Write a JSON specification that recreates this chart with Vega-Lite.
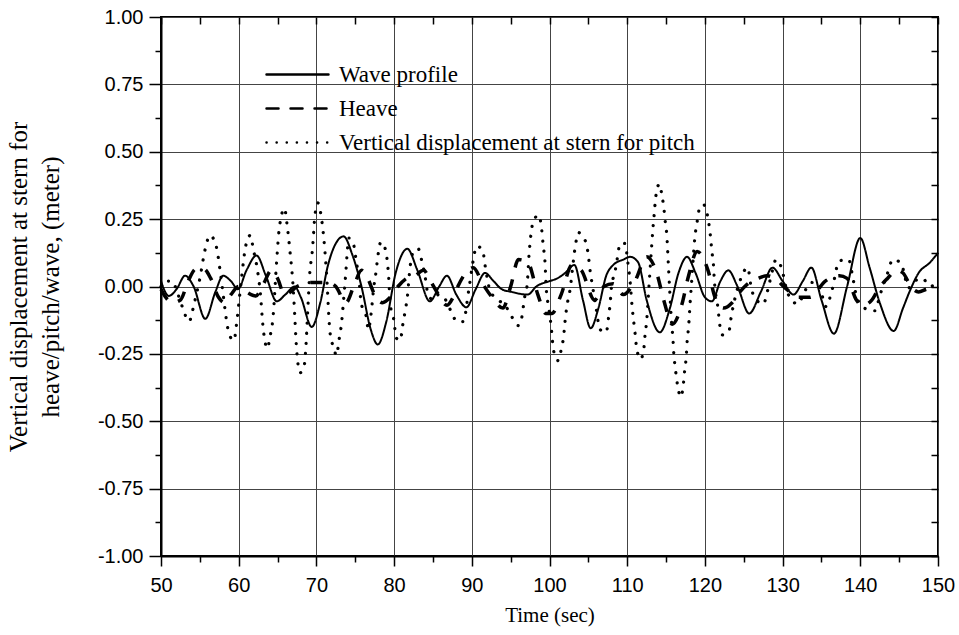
{
  "$schema": "https://vega.github.io/schema/vega-lite/v6.json",
  "width": 777,
  "height": 539,
  "autosize": "none",
  "padding": {"left": 161, "top": 17, "right": 21, "bottom": 79},
  "background": "white",
  "config": {
    "view": {"stroke": "black", "strokeWidth": 2},
    "axis": {
      "labelFont": "Liberation Sans", "labelFontSize": 20, "labelColor": "black", "labelFlush": false, "labelOverlap": false,
      "titleFont": "Liberation Serif", "titleFontSize": 22, "titleFontWeight": "normal", "titleColor": "black",
      "domainColor": "black", "domainWidth": 2, "tickColor": "black", "tickWidth": 1.5,
      "gridColor": "#444", "gridWidth": 1
    }
  },
  "datasets": {
    "wave": [
      {"t":50,"v":0.02},{"t":51,"v":-0.035},{"t":52,"v":-0.01},{"t":53.1,"v":0.04},{"t":54.2,"v":0.0},{"t":55.7,"v":-0.12},{"t":57,"v":-0.02},{"t":58,"v":0.04},{"t":59,"v":0.02},{"t":59.9,"v":-0.01},{"t":61,"v":0.06},{"t":62.3,"v":0.115},{"t":63.5,"v":0.04},{"t":64.9,"v":-0.055},{"t":66,"v":-0.03},{"t":67.2,"v":0.0},{"t":68,"v":-0.04},{"t":69.4,"v":-0.15},{"t":70.5,"v":-0.06},{"t":71.5,"v":0.08},{"t":72.5,"v":0.16},{"t":73.5,"v":0.186},{"t":74.6,"v":0.12},{"t":75.8,"v":0.0},{"t":77,"v":-0.16},{"t":77.9,"v":-0.215},{"t":79,"v":-0.13},{"t":80.2,"v":0.05},{"t":81.7,"v":0.14},{"t":83,"v":0.06},{"t":84.6,"v":-0.055},{"t":85.8,"v":0.0},{"t":86.8,"v":0.04},{"t":88,"v":-0.03},{"t":89.3,"v":-0.077},{"t":90.5,"v":-0.01},{"t":91.7,"v":0.05},{"t":92.8,"v":0.02},{"t":93.85,"v":-0.01},{"t":95.1,"v":-0.02},{"t":97.2,"v":-0.03},{"t":98.3,"v":0.0},{"t":100,"v":0.02},{"t":101,"v":0.03},{"t":102,"v":0.05},{"t":103.2,"v":0.08},{"t":104.3,"v":-0.05},{"t":105.3,"v":-0.155},{"t":106.3,"v":-0.08},{"t":107.3,"v":0.04},{"t":108.2,"v":0.08},{"t":109.5,"v":0.1},{"t":110.4,"v":0.11},{"t":111.4,"v":0.09},{"t":112.5,"v":-0.05},{"t":114.2,"v":-0.17},{"t":115.5,"v":-0.08},{"t":116.6,"v":0.05},{"t":117.7,"v":0.11},{"t":118.8,"v":0.05},{"t":120,"v":-0.04},{"t":120.9,"v":-0.055},{"t":122,"v":0.02},{"t":123,"v":0.06},{"t":124.2,"v":0.0},{"t":125.7,"v":-0.10},{"t":127.2,"v":-0.02},{"t":128.7,"v":0.07},{"t":130,"v":0.02},{"t":131.4,"v":-0.03},{"t":132.6,"v":0.02},{"t":133.7,"v":0.07},{"t":135,"v":-0.05},{"t":136.6,"v":-0.175},{"t":138.3,"v":0.0},{"t":140,"v":0.18},{"t":141.2,"v":0.07},{"t":142.5,"v":-0.06},{"t":144.3,"v":-0.165},{"t":145.5,"v":-0.08},{"t":146.4,"v":-0.015},{"t":147.5,"v":0.05},{"t":149,"v":0.09},{"t":150,"v":0.125}
    ],
    "heave": [
      {"t":50,"v":-0.01},{"t":50.6,"v":-0.04},{"t":51.5,"v":-0.06},{"t":52.5,"v":-0.05},{"t":53.5,"v":0.02},{"t":54.5,"v":0.065},{"t":55.5,"v":0.065},{"t":56.4,"v":0.03},{"t":57.4,"v":-0.04},{"t":58.2,"v":-0.06},{"t":59,"v":-0.03},{"t":60,"v":0.0},{"t":61,"v":-0.02},{"t":62.2,"v":-0.035},{"t":63.2,"v":0.01},{"t":64.2,"v":0.06},{"t":65,"v":0.03},{"t":65.9,"v":-0.03},{"t":66.7,"v":-0.02},{"t":67.5,"v":0.0},{"t":69.5,"v":0.015},{"t":71.5,"v":0.015},{"t":72.5,"v":0.0},{"t":73.8,"v":-0.06},{"t":74.8,"v":0.0},{"t":75.8,"v":0.06},{"t":76.6,"v":0.03},{"t":77.5,"v":-0.03},{"t":78.5,"v":-0.06},{"t":79.5,"v":-0.04},{"t":80.5,"v":0.0},{"t":81.6,"v":0.03},{"t":82.7,"v":0.04},{"t":83.8,"v":0.06},{"t":84.7,"v":0.02},{"t":85.5,"v":-0.02},{"t":86.8,"v":-0.07},{"t":87.6,"v":-0.04},{"t":88.2,"v":0.0},{"t":89.2,"v":0.05},{"t":90.2,"v":0.07},{"t":91.4,"v":0.01},{"t":92.6,"v":-0.04},{"t":94,"v":-0.08},{"t":95,"v":0.0},{"t":96,"v":0.1},{"t":97.2,"v":0.09},{"t":98.5,"v":-0.03},{"t":99.5,"v":-0.1},{"t":100.3,"v":-0.1},{"t":101.5,"v":-0.03},{"t":102.9,"v":0.08},{"t":104.1,"v":0.06},{"t":105.8,"v":-0.05},{"t":107,"v":0.0},{"t":108.2,"v":0.01},{"t":109.5,"v":-0.03},{"t":111,"v":0.02},{"t":112.5,"v":0.11},{"t":113.8,"v":0.05},{"t":114.7,"v":-0.05},{"t":115.8,"v":-0.14},{"t":117,"v":-0.07},{"t":117.9,"v":0.04},{"t":119,"v":0.13},{"t":120.4,"v":0.06},{"t":121.3,"v":-0.04},{"t":122.4,"v":-0.08},{"t":123.5,"v":-0.06},{"t":124.5,"v":-0.02},{"t":125.5,"v":0.01},{"t":126.8,"v":0.03},{"t":128,"v":0.04},{"t":129,"v":0.03},{"t":130.5,"v":-0.01},{"t":132,"v":-0.04},{"t":133.5,"v":-0.04},{"t":135.5,"v":0.02},{"t":137.3,"v":0.04},{"t":138.3,"v":0.03},{"t":139.5,"v":-0.05},{"t":140.3,"v":-0.07},{"t":141.5,"v":-0.05},{"t":142.3,"v":-0.01},{"t":143.5,"v":0.03},{"t":144.7,"v":0.06},{"t":145.5,"v":0.05},{"t":146.5,"v":0.0},{"t":147.5,"v":-0.02},{"t":148.5,"v":-0.01},{"t":150,"v":0.0}
    ],
    "pitch": [
      {"t":50,"v":0.0},{"t":50.6,"v":0.02},{"t":51.4,"v":0.02},{"t":52.2,"v":-0.03},{"t":52.8,"v":-0.08},{"t":53.6,"v":-0.13},{"t":54.3,"v":-0.06},{"t":55,"v":0.03},{"t":55.7,"v":0.14},{"t":56.3,"v":0.19},{"t":57.1,"v":0.15},{"t":57.6,"v":0.06},{"t":58,"v":-0.03},{"t":58.4,"v":-0.12},{"t":58.8,"v":-0.18},{"t":59.4,"v":-0.2},{"t":59.7,"v":-0.145},{"t":60.1,"v":-0.04},{"t":60.4,"v":0.04},{"t":60.9,"v":0.15},{"t":61.5,"v":0.19},{"t":61.9,"v":0.135},{"t":62.3,"v":0.08},{"t":62.8,"v":-0.03},{"t":63.1,"v":-0.14},{"t":63.7,"v":-0.23},{"t":64,"v":-0.19},{"t":64.4,"v":-0.12},{"t":64.9,"v":0.1},{"t":65.2,"v":0.21},{"t":65.9,"v":0.29},{"t":66.2,"v":0.235},{"t":66.6,"v":0.13},{"t":67,"v":0.0},{"t":67.2,"v":-0.1},{"t":67.4,"v":-0.21},{"t":67.9,"v":-0.32},{"t":68.4,"v":-0.3},{"t":68.6,"v":-0.245},{"t":68.9,"v":-0.08},{"t":69.1,"v":0.03},{"t":69.5,"v":0.14},{"t":69.8,"v":0.26},{"t":70.2,"v":0.31},{"t":70.5,"v":0.28},{"t":70.8,"v":0.22},{"t":71.1,"v":0.13},{"t":71.3,"v":0.05},{"t":71.75,"v":-0.17},{"t":72.2,"v":-0.225},{"t":72.6,"v":-0.256},{"t":72.9,"v":-0.2},{"t":73.2,"v":-0.145},{"t":73.7,"v":0.02},{"t":74.2,"v":0.18},{"t":74.75,"v":0.16},{"t":75.1,"v":0.1},{"t":75.5,"v":0.02},{"t":75.75,"v":-0.06},{"t":76.4,"v":-0.11},{"t":76.7,"v":-0.16},{"t":77,"v":-0.11},{"t":77.4,"v":0.0},{"t":77.7,"v":0.06},{"t":77.9,"v":0.11},{"t":78.3,"v":0.165},{"t":78.8,"v":0.145},{"t":79.3,"v":0.035},{"t":79.5,"v":-0.065},{"t":80,"v":-0.13},{"t":80.25,"v":-0.19},{"t":80.8,"v":-0.2},{"t":81.1,"v":-0.145},{"t":81.4,"v":-0.095},{"t":81.7,"v":-0.04},{"t":82.05,"v":0.07},{"t":82.5,"v":0.13},{"t":83.1,"v":0.14},{"t":83.6,"v":0.09},{"t":84,"v":0.035},{"t":84.3,"v":-0.02},{"t":85,"v":-0.05},{"t":85.7,"v":-0.03},{"t":86.4,"v":-0.04},{"t":87.3,"v":-0.09},{"t":88.1,"v":-0.13},{"t":88.9,"v":-0.13},{"t":89.6,"v":-0.015},{"t":90.2,"v":0.1},{"t":90.6,"v":0.15},{"t":91.4,"v":0.135},{"t":91.7,"v":0.08},{"t":92.35,"v":-0.015},{"t":93.4,"v":-0.05},{"t":94.3,"v":-0.07},{"t":95.1,"v":-0.11},{"t":96,"v":-0.145},{"t":96.4,"v":-0.12},{"t":96.8,"v":-0.04},{"t":97.1,"v":0.0},{"t":97.4,"v":0.13},{"t":97.9,"v":0.24},{"t":98.6,"v":0.265},{"t":99,"v":0.21},{"t":99.2,"v":0.15},{"t":99.4,"v":0.1},{"t":99.6,"v":-0.015},{"t":99.85,"v":-0.07},{"t":100.1,"v":-0.12},{"t":100.3,"v":-0.175},{"t":100.5,"v":-0.235},{"t":101.1,"v":-0.275},{"t":101.6,"v":-0.22},{"t":101.8,"v":-0.19},{"t":102,"v":-0.13},{"t":102.2,"v":-0.08},{"t":102.6,"v":-0.02},{"t":103.3,"v":0.145},{"t":103.7,"v":0.2},{"t":104.6,"v":0.17},{"t":105,"v":0.115},{"t":105.2,"v":0.065},{"t":105.6,"v":-0.01},{"t":106,"v":-0.08},{"t":106.5,"v":-0.16},{"t":107.3,"v":-0.17},{"t":107.6,"v":-0.115},{"t":107.8,"v":-0.065},{"t":108,"v":0.005},{"t":108.4,"v":0.05},{"t":108.7,"v":0.1},{"t":109.1,"v":0.16},{"t":109.7,"v":0.16},{"t":110.1,"v":0.085},{"t":110.4,"v":0.01},{"t":110.6,"v":-0.065},{"t":111,"v":-0.17},{"t":111.2,"v":-0.225},{"t":111.7,"v":-0.27},{"t":112.1,"v":-0.24},{"t":112.3,"v":-0.18},{"t":112.5,"v":-0.13},{"t":112.8,"v":0.0},{"t":113.15,"v":0.15},{"t":113.3,"v":0.21},{"t":113.45,"v":0.26},{"t":113.6,"v":0.31},{"t":113.9,"v":0.37},{"t":114.2,"v":0.38},{"t":114.4,"v":0.35},{"t":114.7,"v":0.295},{"t":114.9,"v":0.24},{"t":115.1,"v":0.19},{"t":115.3,"v":0.08},{"t":115.5,"v":-0.03},{"t":115.7,"v":-0.13},{"t":115.9,"v":-0.2},{"t":116,"v":-0.25},{"t":116.2,"v":-0.305},{"t":116.5,"v":-0.37},{"t":116.9,"v":-0.41},{"t":117.2,"v":-0.37},{"t":117.4,"v":-0.31},{"t":117.6,"v":-0.26},{"t":117.7,"v":-0.21},{"t":117.9,"v":-0.15},{"t":118.1,"v":-0.06},{"t":118.3,"v":0.02},{"t":118.7,"v":0.18},{"t":119,"v":0.24},{"t":119.3,"v":0.29},{"t":119.8,"v":0.305},{"t":120.2,"v":0.28},{"t":120.45,"v":0.245},{"t":120.7,"v":0.19},{"t":120.9,"v":0.13},{"t":121.1,"v":0.08},{"t":121.2,"v":0.03},{"t":121.7,"v":-0.085},{"t":121.9,"v":-0.14},{"t":122.3,"v":-0.18},{"t":123.1,"v":-0.165},{"t":123.4,"v":-0.11},{"t":123.9,"v":-0.04},{"t":124.5,"v":0.02},{"t":125.5,"v":0.07},{"t":126,"v":-0.01},{"t":126.4,"v":-0.04},{"t":127.5,"v":-0.065},{"t":128.2,"v":0.0},{"t":128.7,"v":0.06},{"t":129.15,"v":0.1},{"t":129.9,"v":0.065},{"t":130.5,"v":-0.01},{"t":131,"v":-0.045},{"t":132,"v":-0.065},{"t":132.8,"v":-0.02},{"t":133.7,"v":0.015},{"t":134.6,"v":0.01},{"t":135.6,"v":-0.075},{"t":136.3,"v":-0.02},{"t":137.3,"v":0.095},{"t":138.5,"v":0.1},{"t":139,"v":0.04},{"t":139.5,"v":-0.035},{"t":140.5,"v":-0.08},{"t":141.9,"v":-0.09},{"t":142.5,"v":-0.035},{"t":143.4,"v":0.04},{"t":144.2,"v":0.1},{"t":145.3,"v":0.085},{"t":145.7,"v":0.04},{"t":146.2,"v":-0.005},{"t":147,"v":0.02},{"t":148,"v":0.03},{"t":149,"v":0.0},{"t":150,"v":0.02}
    ]
  },
  "layer": [
    {
      "data": {"name": "wave"},
      "mark": {"type": "point", "opacity": 0},
      "encoding": {
        "x": {"field": "t", "type": "quantitative", "scale": {"domain": [50, 150], "nice": false},
          "axis": {"orient": "top", "values": [50,55,60,65,70,75,80,85,90,95,100,105,110,115,120,125,130,135,140,145,150],
            "labels": false, "grid": false, "title": null, "tickSize": -7, "domain": false}},
        "y": {"field": "v", "type": "quantitative", "scale": {"domain": [-1, 1], "nice": false},
          "axis": {"orient": "right", "values": [-1,-0.875,-0.75,-0.625,-0.5,-0.375,-0.25,-0.125,0,0.125,0.25,0.375,0.5,0.625,0.75,0.875,1],
            "labels": false, "grid": false, "title": null, "tickSize": -7, "domain": false}}
      }
    },
    {
      "data": {"name": "wave"},
      "transform": [{"calculate": "'Wave profile'", "as": "series"}],
      "mark": {"type": "line", "interpolate": "monotone", "color": "black", "strokeWidth": 2},
      "encoding": {
        "x": {"field": "t", "type": "quantitative",
          "axis": {"orient": "bottom", "values": [50,55,60,65,70,75,80,85,90,95,100,105,110,115,120,125,130,135,140,145,150],
            "labelExpr": "datum.value % 10 === 0 ? datum.label : ''",
            "tickSize": {"condition": {"test": "datum.value % 10 !== 0", "value": 6}, "value": 10},
            "grid": true,
            "gridOpacity": {"condition": {"test": "datum.value % 10 !== 0", "value": 0}, "value": 1},
            "labelPadding": 9,
            "title": "Time (sec)", "titleFontSize": 21, "titleBaseline": "alphabetic", "titleY": 65}},
        "y": {"field": "v", "type": "quantitative",
          "axis": {"orient": "left", "values": [-1,-0.875,-0.75,-0.625,-0.5,-0.375,-0.25,-0.125,0,0.125,0.25,0.375,0.5,0.625,0.75,0.875,1],
            "labelExpr": "abs(datum.value*4 - round(datum.value*4)) < 0.001 ? replace(format(datum.value, '.2f'), '\u2212', '-') : ''",
            "tickSize": {"condition": {"test": "abs(datum.value*4 - round(datum.value*4)) > 0.001", "value": 6}, "value": 12},
            "grid": true,
            "gridOpacity": {"condition": {"test": "abs(datum.value*4 - round(datum.value*4)) > 0.001", "value": 0}, "value": 1},
            "labelPadding": 6,
            "title": ["Vertical displacement at stern for", "heave/pitch/wave, (meter)"],
            "titleFontSize": 25,
            "titleAngle": 270, "titleBaseline": "alphabetic", "titleLineHeight": 32, "titleX": -135, "titleY": 269.5, "titleAlign": "center"}},
        "strokeDash": {"field": "series", "type": "nominal",
          "scale": {"domain": ["Wave profile", "Heave", "Vertical displacement at stern for pitch"], "range": [[1, 0], [12, 12], [0.1, 10]]},
          "legend": {"title": null, "orient": "none", "legendX": 125, "legendY": 46, "symbolType": "M-4,0H4", "symbolSize": 240,
            "symbolStrokeColor": "black", "symbolStrokeWidth": 2.5, "labelFont": "Liberation Serif", "labelFontSize": 23, "labelColor": "black",
            "labelLimit": 600, "labelOffset": 30, "rowPadding": 10, "padding": 0,
            "encode": {"symbols": {"update": {"strokeCap": {"value": "round"}}}}}}
      }
    },
    {
      "data": {"name": "heave"},
      "transform": [{"calculate": "'Heave'", "as": "series"}],
      "mark": {"type": "line", "interpolate": "monotone", "color": "black", "strokeWidth": 3.5},
      "encoding": {
        "x": {"field": "t", "type": "quantitative", "axis": null},
        "y": {"field": "v", "type": "quantitative", "axis": null},
        "strokeDash": {"field": "series", "type": "nominal"}
      }
    },
    {
      "data": {"name": "pitch"},
      "transform": [{"calculate": "'Vertical displacement at stern for pitch'", "as": "series"}],
      "mark": {"type": "line", "interpolate": "monotone", "color": "black", "strokeWidth": 3.2, "strokeCap": "round"},
      "encoding": {
        "x": {"field": "t", "type": "quantitative", "axis": null},
        "y": {"field": "v", "type": "quantitative", "axis": null},
        "strokeDash": {"field": "series", "type": "nominal"}
      }
    }
  ],
  "resolve": {"axis": {"x": "independent", "y": "independent"}}
}
